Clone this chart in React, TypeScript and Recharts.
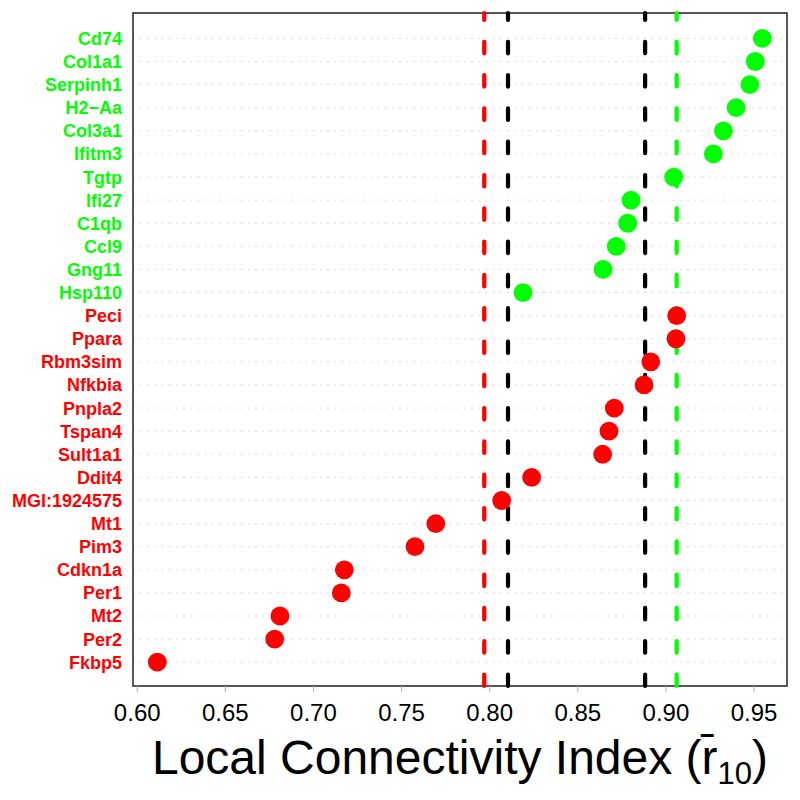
import React from 'react';
import {
  ScatterChart,
  Scatter,
  XAxis,
  YAxis,
  CartesianGrid,
  ReferenceLine,
  ReferenceArea,
} from 'recharts';

// genes listed top to bottom, as in the plot
const genes = [
  'Cd74', 'Col1a1', 'Serpinh1', 'H2\u2212Aa', 'Col3a1', 'Ifitm3', 'Tgtp', 'Ifi27',
  'C1qb', 'Ccl9', 'Gng11', 'Hsp110', 'Peci', 'Ppara', 'Rbm3sim', 'Nfkbia',
  'Pnpla2', 'Tspan4', 'Sult1a1', 'Ddit4', 'MGI:1924575', 'Mt1', 'Pim3', 'Cdkn1a',
  'Per1', 'Mt2', 'Per2', 'Fkbp5',
];

const indexValues = [
  0.9547, 0.9507, 0.9476, 0.9398, 0.9326, 0.9269, 0.9044, 0.8802,
  0.8783, 0.8718, 0.8643, 0.8189, 0.9061, 0.9057, 0.8914, 0.8876,
  0.8707, 0.8677, 0.8641, 0.8238, 0.8068, 0.7694, 0.7576, 0.7175,
  0.7158, 0.6810, 0.6780, 0.6114,
];

// 'up' = green group, 'down' = red group
const geneGroups = [
  'up', 'up', 'up', 'up', 'up', 'up', 'up', 'up', 'up', 'up', 'up', 'up',
  'down', 'down', 'down', 'down', 'down', 'down', 'down', 'down',
  'down', 'down', 'down', 'down', 'down', 'down', 'down', 'down',
];

const xTicks = [0.6, 0.65, 0.7, 0.75, 0.8, 0.85, 0.9, 0.95];

const cutoffValues = [0.7969, 0.8104, 0.8882, 0.9061];
const cutoffGroups = ['down', 'null', 'null', 'up'];

const GREEN = '#00FF00';
const RED = '#FF0000';
const FONT = '"Liberation Sans", Arial, Helvetica, sans-serif';

const groupColor = (g: string) => (g === 'up' ? GREEN : g === 'down' ? RED : '#000000');

const X_DOMAIN: [number, number] = [0.5976, 0.9687];
const Y_DOMAIN: [number, number] = [-0.03, 29.1];

const points = genes.map((gene, i) => ({
  gene,
  value: indexValues[i],
  row: genes.length - i,
  group: geneGroups[i],
}));
const upPoints = points.filter(p => p.group === 'up');
const downPoints = points.filter(p => p.group === 'down');
const rowTicks = points.map(p => p.row).reverse();

const Dot = (color: string) => (p: any) => (
  <circle cx={p.cx} cy={p.cy} r={9.4} fill={color} />
);

const GeneTick = (props: any) => {
  const { x, y, payload } = props;
  const idx = genes.length - payload.value;
  return (
    <text
      x={x}
      y={y}
      dy="0.36em"
      textAnchor="end"
      fill={groupColor(geneGroups[idx])}
      fontFamily={FONT}
      fontWeight="bold"
      fontSize={18}
    >
      {genes[idx]}
    </text>
  );
};

const AxisTitle = (props: any) => {
  const vb = props.viewBox || { x: 133, y: 686, width: 654 };
  return (
    <text
      x={vb.x + vb.width / 2}
      y={vb.y + 88}
      textAnchor="middle"
      fontFamily={FONT}
      fontSize={48}
      fill="#000"
    >
      Local Connectivity Index (r{'\u0304'}
      <tspan fontSize={31} dy={10}>10</tspan>
      <tspan dy={-10}>)</tspan>
    </text>
  );
};

export default function App() {
  return (
    <div style={{ position: 'absolute', left: 0, top: 0, width: 800, height: 800, background: '#fff' }}>
      <ScatterChart width={800} height={800} margin={{ top: 13, right: 13, left: 0, bottom: 0 }}>
        <CartesianGrid vertical={false} stroke="#c4c4c4" strokeDasharray="1.2 6" />
        <XAxis
          type="number"
          dataKey="value"
          domain={X_DOMAIN}
          allowDataOverflow
          ticks={xTicks}
          interval={0}
          tickFormatter={(v: number) => v.toFixed(2)}
          height={114}
          axisLine={false}
          tickSize={6}
          tickLine={{ stroke: '#b0b0b0' }}
          tickMargin={12}
          tick={{ fontSize: 24, fill: '#000', fontFamily: FONT }}
          label={<AxisTitle />}
        />
        <YAxis
          type="number"
          dataKey="row"
          domain={Y_DOMAIN}
          allowDataOverflow
          ticks={rowTicks}
          interval={0}
          width={133}
          axisLine={false}
          tickLine={false}
          tickSize={0}
          tickMargin={11}
          tick={<GeneTick />}
        />
        <Scatter data={upPoints} fill={GREEN} shape={Dot(GREEN)} isAnimationActive={false} />
        <Scatter data={downPoints} fill={RED} shape={Dot(RED)} isAnimationActive={false} />
        {cutoffValues.map((v, i) => (
          <ReferenceLine
            key={i}
            x={v}
            stroke={groupColor(cutoffGroups[i])}
            strokeWidth={4.2}
            strokeLinecap="round"
            strokeDasharray="11.5 21.8"
          />
        ))}
        <ReferenceArea
          x1={X_DOMAIN[0]}
          x2={X_DOMAIN[1]}
          y1={Y_DOMAIN[0]}
          y2={Y_DOMAIN[1]}
          fill="none"
          stroke="#222"
          strokeWidth={1.5}
          fillOpacity={0}
        />
      </ScatterChart>
    </div>
  );
}
